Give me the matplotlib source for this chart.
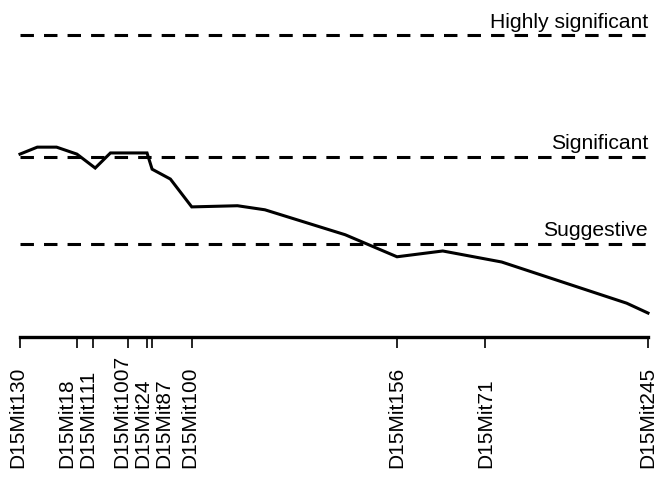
import numpy as np
import matplotlib.pyplot as plt

plt.rcParams['font.family'] = ['Liberation Sans', 'DejaVu Sans']

# marker map (cM)
markers = ['D15Mit130', 'D15Mit18', 'D15Mit111', 'D15Mit1007', 'D15Mit24',
           'D15Mit87', 'D15Mit100', 'D15Mit156', 'D15Mit71', 'D15Mit245']
marker_pos = [0.0, 5.6, 7.2, 10.6, 12.5, 13.0, 16.9, 37.1, 45.8, 61.8]
# labels spread apart where markers crowd together
label_pos = [-0.2, 4.6, 6.7, 10.0, 12.1, 14.1, 16.7, 37.1, 45.8, 61.8]

# LOD profile
lod_x = [0.0, 1.7, 3.6, 5.6, 7.4, 8.9, 12.5, 13.0, 14.8, 16.9,
         21.4, 24.1, 32.0, 37.1, 41.6, 47.4, 59.7, 61.8]
lod_y = [4.35, 4.47, 4.47, 4.35, 4.11, 4.37, 4.37, 4.09, 3.92, 3.44,
         3.46, 3.39, 2.96, 2.58, 2.68, 2.49, 1.78, 1.61]

thr_names = ['Suggestive', 'Significant', 'Highly significant']
thr_vals = [2.8, 4.3, 6.4]

fig = plt.figure(figsize=(6.57, 4.8), dpi=100)
ax = fig.add_axes([20 / 657, 1 - 337 / 480, 628 / 657, 317 / 480])

for name, v in zip(thr_names, thr_vals):
    ax.plot([0, 61.8], [v, v], color='black', lw=2.2, ls=(0, (4.4, 3.3)),
            dash_capstyle='butt', clip_on=False)
    ax.annotate(name, xy=(61.8, v), xytext=(0, 5.5), textcoords='offset points',
                ha='right', va='baseline', fontsize=15.2)

ax.plot(lod_x, lod_y, color='black', lw=2.2, solid_joinstyle='miter', clip_on=False)

ax.set_xlim(0, 61.8)
ax.set_ylim(1.197, 6.662)
for s in ['top', 'left', 'right']:
    ax.spines[s].set_visible(False)
ax.spines['bottom'].set_linewidth(2.4)
ax.set_yticks([])
ax.set_xticks(marker_pos)
ax.set_xticklabels([])
ax.tick_params(axis='x', length=8, width=1.2, direction='out')

for name, p in zip(markers, label_pos):
    ax.annotate(name, xy=(p, 0), xycoords=('data', 'axes fraction'),
                xytext=(0, -94.5), textcoords='offset points',
                rotation=90, ha='center', va='bottom', fontsize=15)

fig.savefig('out.png', dpi=100)
